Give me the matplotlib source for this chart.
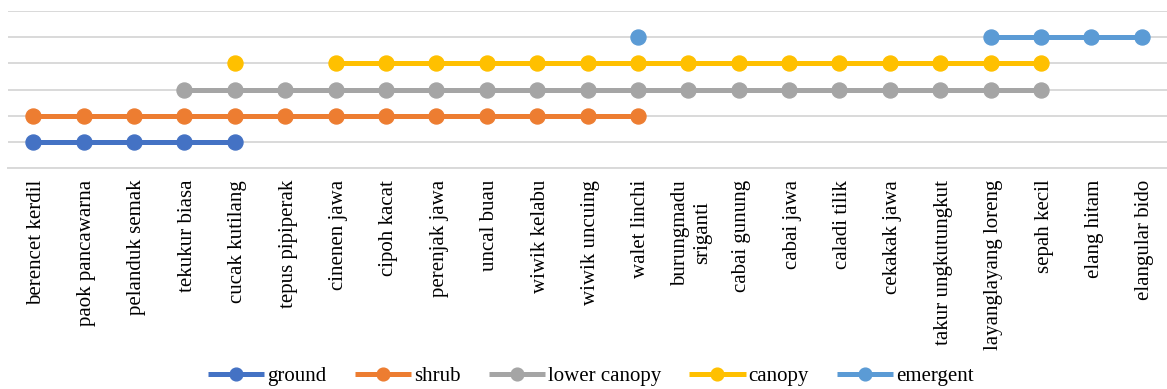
import numpy as np
import matplotlib
matplotlib.use("Agg")
import matplotlib.pyplot as plt
from matplotlib.transforms import ScaledTranslation

plt.rcParams['font.family'] = ['Liberation Serif', 'DejaVu Serif']

species = [
    "berencet kerdil", "paok pancawarna", "pelanduk semak", "tekukur biasa",
    "cucak kutilang", "tepus pipiperak", "cinenen jawa", "cipoh kacat",
    "perenjak jawa", "uncal buau", "wiwik kelabu", "wiwik uncuing",
    "walet linchi", "burungmadu\nsriganti", "cabai gunung", "cabai jawa",
    "caladi tilik", "cekakak jawa", "takur ungkutungkut",
    "layanglayang loreng", "sepah kecil", "elang hitam", "elangular bido",
]

n = np.nan
ground = [1, 1, 1, 1, 1, n, n, n, n, n, n, n, n, n, n, n, n, n, n, n, n, n, n]
shrub = [2, 2, 2, 2, 2, 2, 2, 2, 2, 2, 2, 2, 2, n, n, n, n, n, n, n, n, n, n]
lower_canopy = [n, n, n, 3, 3, 3, 3, 3, 3, 3, 3, 3, 3, 3, 3, 3, 3, 3, 3, 3, 3, n, n]
canopy = [n, n, n, n, 4, n, 4, 4, 4, 4, 4, 4, 4, 4, 4, 4, 4, 4, 4, 4, 4, n, n]
emergent = [n, n, n, n, n, n, n, n, n, n, n, n, 5, n, n, n, n, n, n, 5, 5, 5, 5]

series = [
    ("ground", ground, "#4472C4"),
    ("shrub", shrub, "#ED7D31"),
    ("lower canopy", lower_canopy, "#A5A5A5"),
    ("canopy", canopy, "#FFC000"),
    ("emergent", emergent, "#5B9BD5"),
]

W, H = 1167, 389
fig = plt.figure(figsize=(W / 100, H / 100), dpi=100)
ax = fig.add_axes([8 / W, 1 - 168 / H, 1159 / W, 157 / H])

x = np.arange(len(species))
handles = []
for name, vals, color in series:
    line, = ax.plot(x, vals, color=color, lw=3.6, marker='o', ms=10.8,
                    solid_capstyle='butt', label=name, zorder=3)
    handles.append(line)

ax.set_xlim(-0.5, len(species) - 0.5)
ax.set_ylim(0, 6)
ax.set_yticks(range(0, 7))
ax.set_yticklabels([])
ax.grid(axis='y', color='#D9D9D9', lw=1.4, zorder=0)
ax.set_axisbelow(True)
for side in ['top', 'right', 'left']:
    ax.spines[side].set_visible(False)
ax.spines['bottom'].set_color('#D9D9D9')
ax.spines['bottom'].set_linewidth(1.4)
ax.tick_params(axis='both', length=0)
ax.tick_params(axis='x', pad=8.5)
ax.set_xticks(x)
ax.set_xticklabels(species, rotation=90, ha='center', va='top',
                   multialignment='center', fontsize=15)

# nudge the rotated category labels slightly to the right
shift = ScaledTranslation(3 / 100, 0, fig.dpi_scale_trans)
for lbl in ax.get_xticklabels():
    lbl.set_transform(lbl.get_transform() + shift)

fig.legend(handles=handles, loc='center', bbox_to_anchor=(591 / W, 1 - 376 / H),
           ncol=5, frameon=False, fontsize=15, handlelength=2.7,
           handletextpad=0.15, columnspacing=1.35, numpoints=1, markerscale=0.85)

fig.savefig("out.png", dpi=100)
